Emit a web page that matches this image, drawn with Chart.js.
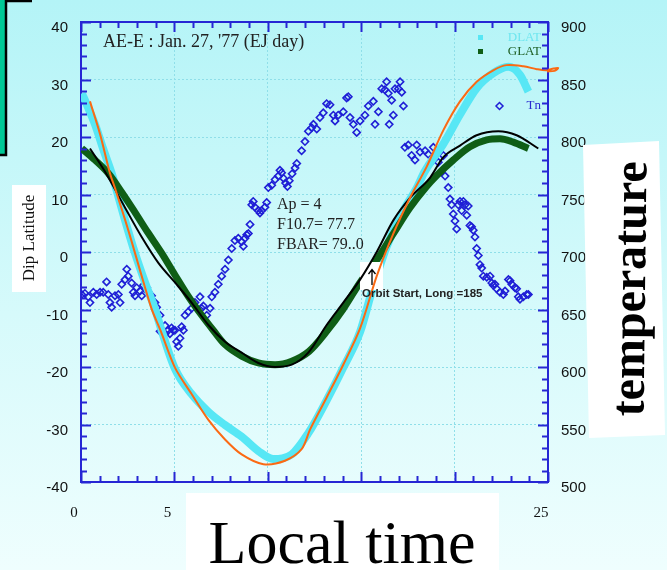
<!DOCTYPE html>
<html>
<head>
<meta charset="utf-8">
<script src="https://cdn.jsdelivr.net/npm/chart.js@4/dist/chart.umd.min.js"></script>
<style>
  html, body { margin: 0; padding: 0; }
  body { width: 667px; height: 570px; overflow: hidden;
    background: linear-gradient(to bottom, #b4f4f7 0%, #d6fafb 55%, #effefe 100%); }
  canvas { display: block; }
</style>
</head>
<body>
<canvas id="chart" width="667" height="570"></canvas>
<script>
// local time (h) / dip latitude (deg)
const dlatTime = [0.05, 0.75, 1.2, 1.64, 2.36, 2.89, 3.43, 3.96, 4.3, 5.03, 5.92, 6.82, 7.71, 8.6, 9.49, 10.28, 11.28, 12.17, 13.15, 14.04, 14.94, 15.6, 16.36, 17.26, 17.97, 18.4, 19.4, 20.29, 21.18, 22.07, 22.88, 23.5, 23.95]
const dlatValue = [27.6, 22.2, 17.8, 13.7, 5.5, -0.2, -5.3, -9.9, -13.5, -20.3, -24.7, -27.8, -30.1, -32.1, -34.6, -36.0, -35.2, -31.5, -25.8, -20.1, -13.9, -6.5, 0.9, 7.2, 11.1, 14.0, 18.8, 23.9, 28.5, 31.1, 32.2, 30.8, 27.9]

const glatTime = [0.04, 0.75, 1.46, 2.18, 2.89, 3.6, 4.32, 5.03, 5.74, 6.46, 7.08, 7.71, 8.6, 9.49, 10.39, 11.28, 12.2, 13.15, 14.04, 14.94, 15.83, 16.72, 17.61, 18.5, 19.04, 19.93, 20.82, 21.72, 22.43, 23.14, 23.95]
const glatValue = [18.0, 16.0, 13.7, 10.4, 6.9, 3.3, -0.2, -4.0, -7.7, -11.0, -13.6, -16.1, -18.1, -19.3, -19.6, -19.0, -17.3, -13.8, -9.9, -5.3, -1.4, 3.2, 7.7, 11.4, 13.3, 16.0, 18.3, 19.5, 19.7, 19.1, 18.0]

const fitTime = [0.48, 1.28, 2.36, 3.25, 4.14, 5.03, 5.92, 6.82, 7.71, 8.6, 9.49, 10.39, 11.28, 12.17, 13.15, 14.04, 14.94, 15.83, 16.72, 17.61, 18.68, 19.4, 20.29, 21.18, 22.34, 23.32, 24.48]
const fitValue = [18.0, 14.0, 7.7, 2.6, -1.9, -5.3, -8.8, -12.7, -15.6, -17.5, -19.3, -20.0, -19.6, -17.5, -12.7, -8.8, -4.8, 0.0, 5.5, 9.4, 12.9, 16.5, 18.5, 20.3, 21.0, 20.3, 18.0]

const modelTime = [0.48, 1.02, 1.55, 1.82, 2.53, 3.25, 3.78, 4.25, 5.03, 5.92, 6.82, 7.71, 8.6, 9.76, 10.92, 11.81, 12.26, 13.15, 14.04, 14.94, 15.83, 16.72, 17.61, 18.5, 19.4, 20.29, 21.18, 22.07, 22.78, 23.68, 24.4, 24.9, 25.3, 25.55, 25.35, 24.95]
const modelValue = [26.2, 20.5, 13.7, 11.1, 3.8, -4.2, -9.9, -13.6, -20.1, -24.7, -29.2, -32.6, -35.2, -36.9, -36.3, -34.3, -30.9, -25.3, -19.6, -13.3, -4.2, 3.2, 9.4, 14.8, 21.2, 26.2, 29.6, 31.6, 32.5, 32.3, 31.8, 31.6, 31.9, 32.0, 31.5, 31.4]

// neutral temperature Tn (K)
const tnTime = [0.04, 0.21, 0.39, 0.48, 0.66, 0.84, 1.02, 1.19, 1.37, 1.46, 1.55, 1.64, 1.82, 2.0, 2.09, 2.18, 2.36, 2.45, 2.53, 2.71, 2.8, 2.89, 2.98, 3.16, 3.25, 3.34, 3.52, 3.6, 3.78, 3.96, 4.05, 4.23, 4.23, 4.5, 4.5, 4.67, 4.76, 4.85, 4.94, 5.03, 5.12, 5.21, 5.3, 5.39, 5.48, 5.57, 5.74, 5.92, 6.1, 6.37, 6.46, 6.55, 6.73, 6.91, 7.0, 7.17, 7.35, 7.53, 7.71, 7.89, 8.07, 8.24, 8.42, 8.6, 8.69, 8.78, 8.87, 8.96, 9.05, 9.14, 9.22, 9.31, 9.49, 9.58, 9.67, 9.85, 9.94, 10.03, 10.21, 10.39, 10.56, 10.65, 10.74, 10.85, 10.95, 11.05, 11.15, 11.3, 11.46, 11.55, 11.81, 11.99, 12.17, 12.35, 12.44, 12.62, 12.79, 12.97, 13.15, 13.33, 13.51, 13.6, 13.77, 14.04, 14.22, 14.31, 14.4, 14.58, 14.76, 14.94, 15.2, 15.38, 15.65, 15.74, 15.92, 16.1, 16.27, 16.36, 16.45, 16.5, 16.63, 16.72, 16.81, 16.99, 17.08, 17.17, 17.26, 17.34, 17.52, 17.7, 17.88, 17.97, 18.15, 18.42, 18.59, 18.68, 18.86, 19.13, 19.4, 19.49, 19.66, 19.75, 19.84, 19.93, 20.02, 20.11, 20.2, 20.29, 20.38, 20.47, 20.56, 20.65, 20.73, 20.82, 20.91, 21.0, 21.09, 21.18, 21.27, 21.36, 21.45, 21.54, 21.72, 21.9, 21.99, 22.07, 22.16, 22.25, 22.43, 22.61, 22.7, 22.88, 22.97, 23.06, 23.23, 23.32, 23.41, 23.5, 23.68, 23.86, 23.95]
const tnTemp = [663, 664, 661, 656, 665, 663, 665, 665, 674, 663, 656, 652, 662, 663, 656, 672, 676, 685, 679, 673, 665, 662, 669, 666, 662, 671, 669, 665, 662, 656, 652, 645, 631, 636, 629, 632, 629, 634, 632, 632, 622, 618, 625, 635, 632, 645, 648, 651, 656, 661, 651, 653, 645, 651, 661, 665, 672, 679, 685, 693, 703, 710, 712, 709, 705, 712, 715, 716, 724, 741, 744, 739, 736, 734, 736, 739, 743, 756, 758, 763, 766, 771, 769, 764, 760, 757, 762, 768, 773, 777, 788, 796, 805, 808, 811, 807, 817, 821, 829, 828, 819, 814, 819, 822, 834, 835, 817, 811, 804, 814, 819, 827, 831, 811, 822, 842, 841, 848, 838, 811, 832, 819, 842, 842, 848, 839, 827, 791, 793, 784, 780, 793, 787, 788, 785, 777, 791, 778, 784, 766, 756, 746, 741, 733, 727, 720, 741, 744, 736, 744, 741, 732, 740, 723, 722, 719, 713, 703, 697, 689, 686, 679, 678, 679, 673, 671, 672, 668, 665, 663, 666, 676, 675, 672, 669, 668, 661, 659, 661, 663, 663]

// x labels 10, 15, 20 sit under the "Local time" box in the original
const xTickShown = [0, 5, 25]

function pts(xs, ys) {
  return xs.map((x, i) => ({ x: x, y: ys[i] }))
}

const AXIS = '#2626d4'
const GRID = '#8fdfe9'

const decor = {
  id: 'decor',
  afterDatasetDraw(chart, args) {
    // white note box sits above the DLAT/GLAT bands but under the black and orange curves
    if (args.index !== 2) return
    const c = chart.ctx
    c.save()
    c.fillStyle = '#ffffff'
    c.fillRect(360, 262, 23, 28)
    c.restore()
  },
  afterDraw(chart) {
    const c = chart.ctx
    const a = chart.chartArea
    const sx = chart.scales.x, sy = chart.scales.y, sy2 = chart.scales.y2
    c.save()

    // frame top line + inward ticks on all sides
    c.strokeStyle = AXIS
    c.lineWidth = 2
    c.beginPath()
    c.moveTo(a.left, a.top); c.lineTo(a.right, a.top)
    for (let t = 0; t <= 25; t++) {
      const px = Math.round(sx.getPixelForValue(t)) + 0.5
      const len = t % 5 === 0 ? 10 : 6
      c.moveTo(px, a.bottom); c.lineTo(px, a.bottom - len)
      c.moveTo(px, a.top); c.lineTo(px, a.top + len)
    }
    for (let v = -40; v <= 40; v += 2) {
      const py = Math.round(sy.getPixelForValue(v)) + 0.5
      const len = v % 10 === 0 ? 10 : 6
      c.moveTo(a.left, py); c.lineTo(a.left + len, py)
    }
    for (let T = 500; T <= 900; T += 10) {
      const py = Math.round(sy2.getPixelForValue(T)) + 0.5
      const len = T % 50 === 0 ? 10 : 6
      c.moveTo(a.right, py); c.lineTo(a.right - len, py)
    }
    c.stroke()

    // teal corner block
    c.fillStyle = '#00c896'
    c.fillRect(0, 0, 6, 155)
    c.strokeStyle = '#000'
    c.lineWidth = 2.5
    c.beginPath()
    c.moveTo(6, 0); c.lineTo(6, 155); c.lineTo(0, 155)
    c.moveTo(6, 1); c.lineTo(32, 1)
    c.stroke()

    // annotations
    c.fillStyle = '#222'
    c.textBaseline = 'middle'
    c.textAlign = 'left'
    c.font = '18px "Liberation Serif"'
    c.fillText("AE-E : Jan. 27, '77 (EJ day)", 103, 42)
    c.font = '16px "Liberation Serif"'
    c.fillText('Ap = 4', 277, 205)
    c.fillText('F10.7= 77.7', 277, 225)
    c.fillText('FBAR= 79..0', 277, 245)

    // orbit start arrow + note
    c.strokeStyle = '#000'
    c.lineWidth = 1.3
    c.beginPath()
    c.moveTo(372, 285); c.lineTo(372, 270)
    c.moveTo(368.5, 274); c.lineTo(372, 269.5); c.lineTo(375.5, 274)
    c.stroke()
    c.fillStyle = '#222'
    c.font = 'bold 11.5px "Liberation Sans"'
    c.fillText('Orbit Start, Long =185', 362, 294)

    // legend (labels from the datasets)
    const ds = chart.data.datasets
    c.font = '13px "Liberation Serif"'
    c.textAlign = 'right'
    c.fillStyle = ds[3].borderColor
    c.fillRect(478, 35, 5, 5)
    c.fillStyle = '#6fe6ef'
    c.fillText(ds[3].label, 541, 38)
    c.fillStyle = ds[2].borderColor
    c.fillRect(478, 49, 5, 5)
    c.fillStyle = '#1c5e22'
    c.fillText(ds[2].label, 541, 52)
    c.strokeStyle = ds[4].borderColor
    c.lineWidth = 1.5
    c.beginPath()
    c.moveTo(499.5, 102.5); c.lineTo(503, 106); c.lineTo(499.5, 109.5); c.lineTo(496, 106); c.closePath()
    c.stroke()
    c.fillStyle = '#2a2ad0'
    c.fillText(ds[4].label, 541, 106)

    // Dip Latitude label
    c.fillStyle = '#ffffff'
    c.fillRect(12, 185, 34, 107)
    c.save()
    c.translate(34, 238)
    c.rotate(-Math.PI / 2)
    c.fillStyle = '#111'
    c.textAlign = 'center'
    c.textBaseline = 'alphabetic'
    c.font = '17px "Liberation Serif"'
    c.fillText('Dip Latitude', 0, 0)
    c.restore()

    // temperature label on a slightly tilted white card
    c.fillStyle = '#ffffff'
    c.beginPath()
    c.moveTo(583, 145); c.lineTo(659, 141); c.lineTo(665, 435); c.lineTo(589, 438)
    c.closePath()
    c.fill()
    c.save()
    c.translate(645, 289)
    c.rotate(-Math.PI / 2 + 0.012)
    c.fillStyle = '#000'
    c.textAlign = 'center'
    c.textBaseline = 'alphabetic'
    c.font = 'bold 48px "Liberation Serif"'
    c.fillText('temperature', 0, 0)
    c.restore()

    // Local time label
    c.fillStyle = '#ffffff'
    c.fillRect(186, 493, 313, 77)
    c.fillStyle = '#000'
    c.textAlign = 'center'
    c.textBaseline = 'alphabetic'
    c.font = '62px "Liberation Serif"'
    c.fillText('Local time', 342, 563)

    c.restore()
  }
}

const ctx = document.getElementById('chart').getContext('2d')
const chart = new Chart(ctx, {
  type: 'line',
  data: {
    datasets: [
      {
        label: 'model',
        data: pts(modelTime, modelValue),
        borderColor: '#fb6a14',
        borderWidth: 2,
        pointRadius: 0,
        tension: 0.3,
        clip: false,
        yAxisID: 'y'
      },
      {
        label: 'fit',
        data: pts(fitTime, fitValue),
        borderColor: '#000000',
        borderWidth: 2,
        pointRadius: 0,
        cubicInterpolationMode: 'monotone',
        yAxisID: 'y'
      },
      {
        label: 'GLAT',
        data: pts(glatTime, glatValue),
        borderColor: '#0f5e16',
        borderWidth: 7,
        pointRadius: 0,
        cubicInterpolationMode: 'monotone',
        yAxisID: 'y'
      },
      {
        label: 'DLAT',
        data: pts(dlatTime, dlatValue),
        borderColor: '#57e7f5',
        borderWidth: 8,
        pointRadius: 0,
        cubicInterpolationMode: 'monotone',
        yAxisID: 'y'
      },
      {
        label: 'Tn',
        data: pts(tnTime, tnTemp),
        showLine: false,
        pointStyle: 'rectRot',
        pointRadius: 3.6,
        borderWidth: 1.6,
        borderColor: '#1f1fd6',
        backgroundColor: 'rgba(0,0,0,0)',
        yAxisID: 'y2'
      }
    ]
  },
  options: {
    responsive: false,
    animation: false,
    layout: { padding: { top: 12, left: 0, right: 0, bottom: 0 } },
    plugins: {
      legend: { display: false },
      tooltip: { enabled: false }
    },
    scales: {
      x: {
        type: 'linear',
        min: 0,
        max: 25,
        afterFit(s) { s.height = 88 },
        ticks: {
          stepSize: 5,
          padding: 22,
          labelOffset: -7,
          color: '#111',
          font: { family: 'Liberation Serif', size: 15 },
          callback: (v) => xTickShown.includes(v) ? String(v) : ''
        },
        grid: {
          drawTicks: false,
          lineWidth: 1,
          color: (c) => (c.tick && (c.tick.value === 0 || c.tick.value === 25)) ? 'rgba(0,0,0,0)' : GRID
        },
        border: { display: true, color: AXIS, width: 2, dash: [2, 2] }
      },
      y: {
        position: 'left',
        min: -40,
        max: 40,
        afterFit(s) { s.width = 81 },
        ticks: {
          stepSize: 10,
          padding: 13,
          labelOffset: 6,
          color: '#111',
          font: { family: 'Liberation Sans', size: 15 }
        },
        grid: {
          drawTicks: false,
          lineWidth: 1,
          color: (c) => (c.tick && Math.abs(c.tick.value) === 40) ? 'rgba(0,0,0,0)' : GRID
        },
        border: { display: true, color: AXIS, width: 2, dash: [2, 2] }
      },
      y2: {
        position: 'right',
        min: 500,
        max: 900,
        afterFit(s) { s.width = 119 },
        ticks: {
          stepSize: 50,
          padding: 13,
          labelOffset: 6,
          color: '#111',
          font: { family: 'Liberation Sans', size: 15 }
        },
        grid: { display: false, drawTicks: false },
        border: { display: true, color: AXIS, width: 2 }
      }
    }
  },
  plugins: [decor]
})
</script>
</body>
</html>
